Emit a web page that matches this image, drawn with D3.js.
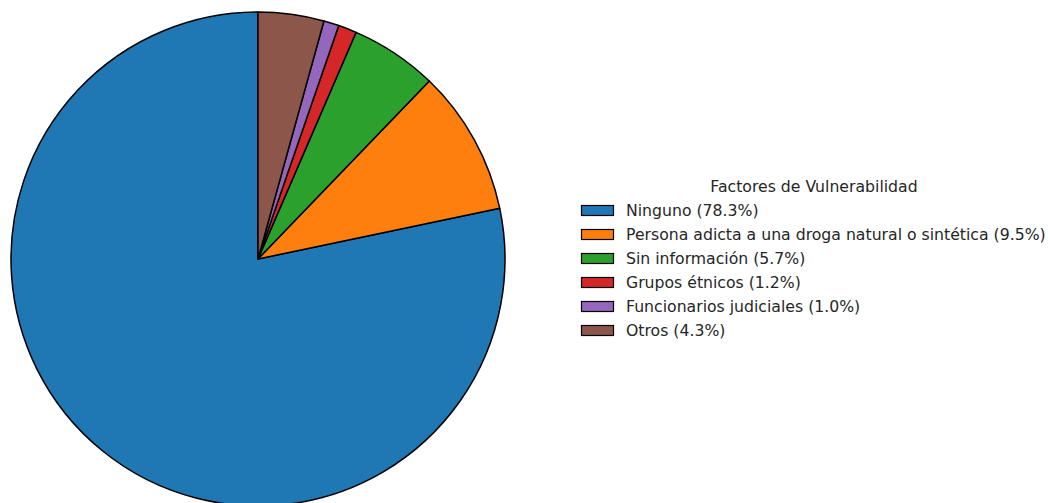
<!DOCTYPE html>
<html><head><meta charset="utf-8">
<script src="https://cdn.jsdelivr.net/npm/d3@7"></script>
<style>body{margin:0;background:#fff}svg{display:block}text{font-family:"DejaVu Sans",sans-serif;fill:#262626}</style>
</head><body><svg id="c" width="1048" height="503"></svg>
<script>
const categories = ["Ninguno","Persona adicta a una droga natural o sintética","Sin información","Grupos étnicos","Funcionarios judiciales","Otros"];
const values = [78.3, 9.5, 5.7, 1.2, 1.0, 4.3];
const colors = ["#1f77b4","#ff7f0e","#2ca02c","#d62728","#9467bd","#8c564b"];
const legendTitle = "Factores de Vulnerabilidad";

const svg = d3.select("#c");
const cx = 258, cy = 259, r = 247;
const pie = d3.pie().sort(null).startAngle(0).endAngle(-2*Math.PI);
const arc = d3.arc().innerRadius(0).outerRadius(r);
const g = svg.append("g").attr("transform",`translate(${cx},${cy})`);
g.selectAll("path").data(pie(values)).join("path")
  .attr("d",arc).attr("fill",(d,i)=>colors[i])
  .attr("stroke","#000").attr("stroke-width",1.5).attr("stroke-linejoin","round");

const fs = 15.7;
const lg = svg.append("g");
lg.append("text").attr("x",814).attr("y",191.5).attr("text-anchor","middle")
  .attr("font-size",fs).text(legendTitle);
const rows = lg.selectAll("g.row").data(categories).join("g").attr("class","row")
  .attr("transform",(d,i)=>`translate(0,${210+i*24})`);
rows.append("rect").attr("x",581.5).attr("y",-4.5).attr("width",32).attr("height",10)
  .attr("fill",(d,i)=>colors[i]).attr("stroke","#000").attr("stroke-width",1.2);
rows.append("text").attr("x",626).attr("y",5.8).attr("font-size",fs)
  .text((d,i)=>`${d} (${values[i].toFixed(1)}%)`);
</script></body></html>
